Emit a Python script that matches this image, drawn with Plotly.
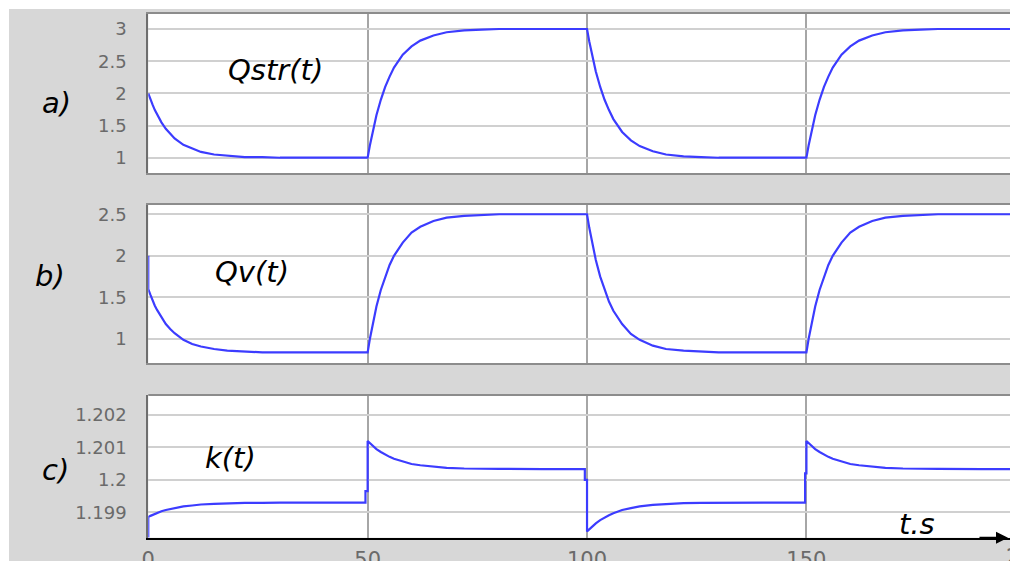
import plotly.graph_objects as go

# ---------------- data ----------------
t_q = [0, 0.5, 1, 1.5, 2, 3, 4, 5, 6, 8, 10, 12, 15, 18, 22, 26, 30, 40,
       50, 50.5, 51, 51.5, 52, 53, 54, 55, 56, 58, 60, 62, 65, 68, 72, 76, 80, 90,
       100, 100.5, 101, 101.5, 102, 103, 104, 105, 106, 108, 110, 112, 115, 118, 122, 126, 130, 140,
       150, 150.5, 151, 151.5, 152, 153, 154, 155, 156, 158, 160, 162, 165, 168, 172, 176, 180, 190,
       197]
qstr = [2.00, 1.90, 1.82, 1.74, 1.67, 1.55, 1.45, 1.37, 1.30, 1.20, 1.14, 1.09, 1.05, 1.03, 1.01, 1.01, 1.00, 1.00,
        1.00, 1.19, 1.36, 1.52, 1.66, 1.90, 2.10, 2.26, 2.40, 2.60, 2.73, 2.82, 2.90, 2.95, 2.98, 2.99, 3.00, 3.00,
        3.00, 2.81, 2.64, 2.48, 2.34, 2.10, 1.90, 1.74, 1.60, 1.40, 1.27, 1.18, 1.10, 1.05, 1.02, 1.01, 1.00, 1.00,
        1.00, 1.19, 1.36, 1.52, 1.66, 1.90, 2.10, 2.26, 2.40, 2.60, 2.73, 2.82, 2.90, 2.95, 2.98, 2.99, 3.00, 3.00,
        3.00]

t_v = [0] + t_q
qv = [2.00,
      1.60, 1.53, 1.46, 1.40, 1.35, 1.26, 1.18, 1.12, 1.07, 0.99, 0.94, 0.91, 0.88, 0.86, 0.85, 0.84, 0.84, 0.84,
      0.84, 1.00, 1.14, 1.27, 1.39, 1.59, 1.75, 1.89, 2.00, 2.16, 2.28, 2.35, 2.42, 2.46, 2.48, 2.49, 2.50, 2.50,
      2.50, 2.34, 2.20, 2.07, 1.95, 1.75, 1.59, 1.45, 1.34, 1.18, 1.06, 0.99, 0.92, 0.88, 0.86, 0.85, 0.84, 0.84,
      0.84, 1.00, 1.14, 1.27, 1.39, 1.59, 1.75, 1.89, 2.00, 2.16, 2.28, 2.35, 2.42, 2.46, 2.48, 2.49, 2.50, 2.50,
      2.50]

t_k = [0,
       0, 0.5, 1, 1.5, 2, 3, 4, 5, 6, 8, 10, 12, 15, 18, 22, 26, 30, 40,
       49.5, 49.5, 50,
       50, 50.5, 51, 51.5, 52, 53, 54, 55, 56, 58, 60, 62, 65, 68, 72, 76, 80, 90,
       99.5, 99.5, 100,
       100, 100.5, 101, 101.5, 102, 103, 104, 105, 106, 108, 110, 112, 115, 118, 122, 126, 130, 140,
       149.7, 149.7, 150,
       150, 150.5, 151, 151.5, 152, 153, 154, 155, 156, 158, 160, 162, 165, 168, 172, 176, 180, 190,
       197]
k = [1.19822,
     1.19885, 1.19889, 1.19892, 1.19895, 1.19898, 1.19903, 1.19907, 1.19910, 1.19913, 1.19918, 1.19921, 1.19924,
     1.19926, 1.19928, 1.19929, 1.19929, 1.19930, 1.19930,
     1.19930, 1.19965, 1.19965,
     1.20120, 1.20113, 1.20107, 1.20101, 1.20095, 1.20086, 1.20078, 1.20071, 1.20065, 1.20056, 1.20049, 1.20045,
     1.20040, 1.20037, 1.20035, 1.20034, 1.20034, 1.20033,
     1.20033, 1.20000, 1.20000,
     1.19841, 1.19848, 1.19855, 1.19861, 1.19866, 1.19876, 1.19884, 1.19891, 1.19897, 1.19907, 1.19913, 1.19918,
     1.19923, 1.19926, 1.19928, 1.19929, 1.19929, 1.19930,
     1.19930, 1.20020, 1.20020,
     1.20120, 1.20113, 1.20107, 1.20101, 1.20095, 1.20086, 1.20078, 1.20071, 1.20065, 1.20056, 1.20049, 1.20045,
     1.20040, 1.20037, 1.20035, 1.20034, 1.20034, 1.20033,
     1.20033]

x_ticks = [0, 50, 100, 150]
x_tick_text = ["0", "50", "100", "150"]
x_last_tick = 200
ya_ticks = [1, 1.5, 2, 2.5, 3]
ya_text = ["1", "1.5", "2", "2.5", "3"]
yb_ticks = [1, 1.5, 2, 2.5]
yb_text = ["1", "1.5", "2", "2.5"]
yc_ticks = [1.199, 1.2, 1.201, 1.202]
yc_text = ["1.199", "1.2", "1.201", "1.202"]

# ---------------- style ----------------
W, H = 1010, 561
LINE = "#3c3cff"
BG = "#d7d7d7"
TICKFONT = dict(family="DejaVu Sans", size=18, color="#6a6a6a")
XTICKFONT = dict(family="DejaVu Sans", size=21, color="#6a6a6a")
LABFONT = dict(family="DejaVu Sans", size=29, color="black", style="italic")

x_range = [0, 196.4]
x_dom = [0.1468, 1.0]
dom_a = [0.6911, 0.9750]
dom_b = [0.3524, 0.6351]
dom_c = [0.0415, 0.2959]

fig = go.Figure()
fig.add_trace(go.Scatter(x=t_q, y=qstr, mode="lines", line=dict(color=LINE, width=2.2),
                         xaxis="x", yaxis="y", showlegend=False, hoverinfo="skip"))
fig.add_trace(go.Scatter(x=t_v, y=qv, mode="lines", line=dict(color=LINE, width=2.2),
                         xaxis="x2", yaxis="y2", showlegend=False, hoverinfo="skip"))
fig.add_trace(go.Scatter(x=t_k, y=k, mode="lines", line=dict(color=LINE, width=2.2),
                         xaxis="x3", yaxis="y3", showlegend=False, hoverinfo="skip"))

xcommon = dict(domain=x_dom, range=x_range, tickvals=x_ticks, showgrid=True, automargin=False,
               gridcolor="#a6a6a6", gridwidth=2, zeroline=False, ticks="", fixedrange=True)
ycommon = dict(showgrid=True, gridcolor="#d0d0d0", gridwidth=2, zeroline=False, ticks="",
               showline=True, linecolor="#6e6e6e", linewidth=2, mirror=False, automargin=False,
               tickfont=TICKFONT, ticklabelstandoff=16)

fig.update_layout(
    width=W, height=H, autosize=False,
    margin=dict(l=0, r=0, t=0, b=0, pad=0),
    paper_bgcolor=BG, plot_bgcolor="white",
    xaxis=dict(**xcommon, anchor="y", showticklabels=False, showline=True,
               linecolor="#8c8c8c", linewidth=2, mirror=True),
    xaxis2=dict(**xcommon, anchor="y2", showticklabels=False, showline=True,
                linecolor="#8c8c8c", linewidth=2, mirror=True),
    xaxis3=dict(**xcommon, anchor="y3", showticklabels=True, ticktext=x_tick_text,
                tickfont=XTICKFONT, ticklabelstandoff=2, showline=True,
                linecolor="black", linewidth=2, mirror=False),
    yaxis=dict(**ycommon, domain=dom_a, range=[0.758, 3.233], tickvals=ya_ticks, ticktext=ya_text, anchor="x"),
    yaxis2=dict(**ycommon, domain=dom_b, range=[0.708, 2.615], tickvals=yb_ticks, ticktext=yb_text, anchor="x2"),
    yaxis3=dict(**ycommon, domain=dom_c, range=[1.198216, 1.202617], tickvals=yc_ticks, ticktext=yc_text, anchor="x3"),
)

# white outer strips (left and top)
fig.add_shape(type="rect", xref="paper", yref="paper", x0=0, x1=9 / W, y0=0, y1=1,
              fillcolor="white", line_width=0, layer="below")
fig.add_shape(type="rect", xref="paper", yref="paper", x0=0, x1=1, y0=1 - 9 / H, y1=1,
              fillcolor="white", line_width=0, layer="below")
# grey top border of panel c
fig.add_shape(type="line", xref="paper", yref="paper", x0=x_dom[0], x1=1, y0=dom_c[1], y1=dom_c[1],
              line=dict(color="#8c8c8c", width=2))

def px(xp):
    return xp / W

def py(yp):
    return 1 - yp / H

# last x tick label (partly outside the figure)
x200 = x_dom[0] + (x_last_tick - x_range[0]) / (x_range[1] - x_range[0]) * (x_dom[1] - x_dom[0])
fig.add_annotation(x=x200, y=dom_c[0], xref="paper", yref="paper", text=str(x_last_tick),
                   showarrow=False, xanchor="center", yanchor="top", yshift=-5, font=XTICKFONT)

# axis arrow at right end of panel c
fig.add_annotation(x=0.998, y=dom_c[0], xref="paper", yref="paper", text="",
                   showarrow=True, ax=-30, ay=0, arrowhead=2, arrowsize=1.2, arrowwidth=2,
                   arrowcolor="black")

labels = [("a)", 56, 103), ("b)", 50, 276), ("c)", 55, 470),
          ("Qstr(t)", 275, 70), ("Qv(t)", 252, 272), ("k(t)", 230, 458), ("t.s", 917, 524)]
for txt, xx, yy in labels:
    fig.add_annotation(x=px(xx), y=py(yy), xref="paper", yref="paper", text=txt,
                       showarrow=False, xanchor="center", yanchor="middle", font=LABFONT)

fig.write_html("out.html")
